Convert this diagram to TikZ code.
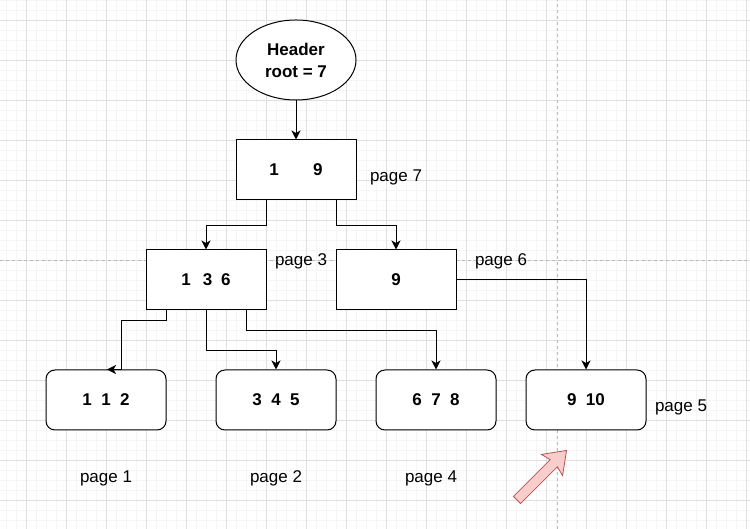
\documentclass[tikz,border=0pt]{standalone}
\usepackage{fontspec}
\setmainfont{Liberation Sans}
\usetikzlibrary{arrows.meta,shapes.geometric}
\definecolor{pinkfill}{HTML}{F8CECC}
\definecolor{pinkline}{HTML}{B85450}

\begin{document}
\begin{tikzpicture}[x=1pt, y=1pt, line width=1pt, node distance=110pt,
page node/.style={rectangle,draw,fill=white,minimum width=120pt,minimum height=60pt,inner sep=0pt,font=\fontsize{17}{20}\selectfont\bfseries},
leaf node/.style={page node,rounded corners=9pt},
page label/.style={inner sep=0pt,font=\fontsize{17}{20}\selectfont},
link/.style={-{Stealth[length=9pt,width=9pt,inset=2.5pt]}}]
\useasboundingbox (0,0) rectangle (750,529);
\begin{scope}
\clip (0,0) rectangle (750,529);
\begin{scope}[shift={(6.7,-1)}]
\draw[gray!8, line width=0.6pt, step=10pt] (-20,-20) grid (770,550);
\end{scope}
\begin{scope}[shift={(26.7,29)}]
\draw[gray!25, line width=0.8pt, step=40pt] (-40,-40) grid (790,570);
\end{scope}
\draw[gray!55, line width=0.8pt, dash pattern=on 3pt off 3pt] (0,269) -- (750,269);
\draw[gray!55, line width=0.8pt, dash pattern=on 3pt off 3pt] (557,0) -- (557,529);
\end{scope}
\node[ellipse,draw,fill=white,minimum width=120pt,minimum height=80pt,inner sep=0pt,align=center,font=\fontsize{17}{22}\selectfont\bfseries](hdr) at (296,469){Header\\root = 7};
\node[page node](p7)[below of=hdr]{1\hspace{34.5pt}9};
\node[page node](p3)[below of=p7, xshift=-90pt]{1\hspace{12pt}3\hspace{9pt}6};
\node[page node](p6)[right of=p3, node distance=190pt]{9};
\node[leaf node](p1)[below of=p3, node distance=120pt, xshift=-100pt]{1~~1~~2};
\node[leaf node](p2)[right of=p1, node distance=170pt]{3~~4~~5};
\node[leaf node](p4)[right of=p2, node distance=160pt]{6~~7~~8};
\node[leaf node](p5)[right of=p4, node distance=150pt]{9~~10};
\node[page label](l7)[right of=p7, node distance=100pt, yshift=-7pt]{page 7};
\node[page label](l3)[right of=p3, node distance=95pt, yshift=19pt]{page 3};
\node[page label](l6)[right of=p6, node distance=105pt, yshift=19pt]{page 6};
\node[page label](l1)[below of=p1, node distance=78pt]{page 1};
\node[page label](l2)[below of=p2, node distance=78pt]{page 2};
\node[page label](l4)[below of=p4, node distance=78pt, xshift=-5pt]{page 4};
\node[page label](l5)[right of=p5, node distance=95pt, yshift=-7pt]{page 5};
\draw[link](hdr)--(p7);
\draw[link]([xshift=-30pt]p7.south)--++(0,-25)-|(p3.north);
\draw[link]([xshift=40pt]p7.south)--++(0,-25)-|(p6.north);
\draw[link](p6.east)-|(p5.north);
\draw[link]([xshift=-40pt]p3.south)--++(0,-10)-|([xshift=15pt]p1.north)--([xshift=1pt]p1.north);
\draw[link](p3.south)--++(0,-40)-|(p2.north);
\draw[link]([xshift=40pt]p3.south)--++(0,-20)-|(p4.north);
\begin{scope}[shift={(517,29)}, rotate=45]
\draw[draw=pinkline, fill=pinkfill, line width=0.8pt] (0,-5)--(52,-5)--(49.5,-15)--(70,0)--(49.5,15)--(52,5)--(0,5)--cycle;
\end{scope}
\end{tikzpicture}
\end{document}
